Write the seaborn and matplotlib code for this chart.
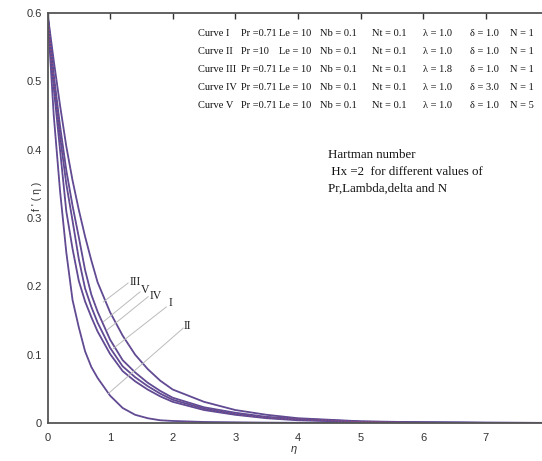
import matplotlib
matplotlib.use("Agg")
import matplotlib.pyplot as plt
import seaborn as sns
import pandas as pd

eta = [0, 0.1, 0.2, 0.3, 0.4, 0.5, 0.6, 0.7, 0.8, 1.0, 1.2, 1.4, 1.6, 1.8,
       2.0, 2.5, 3.0, 3.5, 4.0, 5.0, 6.0, 7.0, 8.0]
curve_I = [0.6, 0.49, 0.40, 0.31, 0.255, 0.208, 0.178, 0.155, 0.134, 0.101, 0.076,
           0.061, 0.049, 0.039, 0.031, 0.019, 0.012, 0.007, 0.004, 0.0015, 0.0006, 0.0002, 0.0001]
curve_II = [0.6, 0.45, 0.34, 0.25, 0.18, 0.14, 0.105, 0.082, 0.066, 0.040, 0.022,
            0.012, 0.007, 0.004, 0.003, 0.0015, 0.001, 0.0005, 0.0003, 0.0002, 0.0001, 0.0001, 0.0]
curve_III = [0.6, 0.53, 0.465, 0.405, 0.355, 0.312, 0.273, 0.238, 0.206, 0.162, 0.128,
             0.100, 0.079, 0.062, 0.049, 0.031, 0.019, 0.012, 0.007, 0.0025, 0.001, 0.0004, 0.0002]
curve_IV = [0.6, 0.50, 0.42, 0.35, 0.296, 0.24, 0.197, 0.170, 0.147, 0.110, 0.083,
            0.067, 0.054, 0.043, 0.034, 0.021, 0.013, 0.008, 0.005, 0.0018, 0.0007, 0.0003, 0.0001]
curve_V = [0.6, 0.51, 0.435, 0.37, 0.318, 0.272, 0.224, 0.188, 0.163, 0.122, 0.092,
           0.074, 0.059, 0.047, 0.037, 0.023, 0.015, 0.009, 0.006, 0.002, 0.0008, 0.0003, 0.0001]

curve_names = ["I", "II", "III", "IV", "V"]
legend_rows = [
    ["Curve I", "Pr =0.71", "Le = 10", "Nb = 0.1", "Nt = 0.1", "λ = 1.0", "δ = 1.0", "N = 1"],
    ["Curve II", "Pr =10", "Le = 10", "Nb = 0.1", "Nt = 0.1", "λ = 1.0", "δ = 1.0", "N = 1"],
    ["Curve III", "Pr =0.71", "Le = 10", "Nb = 0.1", "Nt = 0.1", "λ = 1.8", "δ = 1.0", "N = 1"],
    ["Curve IV", "Pr =0.71", "Le = 10", "Nb = 0.1", "Nt = 0.1", "λ = 1.0", "δ = 3.0", "N = 1"],
    ["Curve V", "Pr =0.71", "Le = 10", "Nb = 0.1", "Nt = 0.1", "λ = 1.0", "δ = 1.0", "N = 5"],
]
note_lines = ["Hartman number", " Hx =2  for different values of", "Pr,Lambda,delta and N"]
x_ticks = [0, 1, 2, 3, 4, 5, 6, 7, 8]
x_tick_labels = ["0", "1", "2", "3", "4", "5", "6", "7", ""]
y_ticks = [0, 0.1, 0.2, 0.3, 0.4, 0.5, 0.6]
y_tick_labels = ["0", "0.1", "0.2", "0.3", "0.4", "0.5", "0.6"]

# label annotations: (label, text pos, leader start, leader end) in data coords
labels = ["III", "V", "IV", "I", "II"]
label_xy = [(1.40, 0.207), (1.56, 0.195), (1.73, 0.186), (1.96, 0.176), (2.24, 0.142)]
leader_start = [(1.29, 0.205), (1.48, 0.192), (1.61, 0.185), (1.90, 0.170), (2.17, 0.139)]
leader_end = [(0.89, 0.177), (0.89, 0.148), (0.95, 0.136), (1.05, 0.109), (0.97, 0.043)]

series = {"I": curve_I, "II": curve_II, "III": curve_III, "IV": curve_IV, "V": curve_V}
df = pd.concat([pd.DataFrame({"eta": eta, "f": series[n], "curve": n}) for n in curve_names])

sns.set_style("white")
plt.rcParams["font.family"] = ["Liberation Sans", "DejaVu Sans"]

W, H = 542, 461
fig = plt.figure(figsize=(W / 100, H / 100), dpi=100)
x0px, x1px = 47.5, 47.5 + 8 * 62.6
ytop, ybot = 13, 423
ax = fig.add_axes([x0px / W, (H - ybot) / H, (x1px - x0px) / W, (ybot - ytop) / H])

line_color = "#5a4a96"
sns.lineplot(data=df, x="eta", y="f", hue="curve", palette=[line_color] * 5,
             legend=False, ax=ax, estimator=None, sort=False, linewidth=1.3)
sns.lineplot(data=df, x="eta", y="f", hue="curve", palette=["#c0506a"] * 5,
             legend=False, ax=ax, estimator=None, sort=False, linewidth=0.6,
             linestyle=(0, (1, 3)), alpha=0.6)

ax.set_xlim(0, 8)
ax.set_ylim(0, 0.6)
ax.set_xticks(x_ticks)
ax.set_xticklabels(x_tick_labels)
ax.set_yticks(y_ticks)
ax.set_yticklabels(y_tick_labels)
ax.tick_params(direction="in", top=True, right=True, length=4, width=1,
               labelsize=8, colors="#333333")
ax.tick_params(axis="x", pad=7)
ax.tick_params(axis="y", pad=4)
for s in ax.spines.values():
    s.set_color("#555555")
    s.set_linewidth(1.3)
ax.set_xlabel("")
ax.set_ylabel("")
fig.text(294 / W, 1 - 449 / H, "η", fontsize=8, fontstyle="italic",
         ha="center", va="center", color="#333333")
fig.text(37 / W, 1 - 196 / H, "f ' ( η )", fontsize=7.5, rotation=90,
         ha="center", va="center", color="#333333")

for lab, txy, s, e in zip(labels, label_xy, leader_start, leader_end):
    ax.plot([s[0], e[0]], [s[1], e[1]], color="#bbbbbb", lw=0.7)
    ax.text(txy[0], txy[1], lab, fontsize=8.5, family="Liberation Serif",
            ha="center", va="center", color="#222222")

col_x = [198, 241, 279, 320, 372, 423, 470, 510]
row_y = [34, 52, 70, 88, 106]
for ry, row in zip(row_y, legend_rows):
    for cx, txt in zip(col_x, row):
        fig.text(cx / W, 1 - ry / H, txt, fontsize=7.5, family="Liberation Serif",
                 ha="left", va="center", color="#111111")

note_y = [155, 172, 189]
for ny, txt in zip(note_y, note_lines):
    fig.text(328 / W, 1 - ny / H, txt, fontsize=9.3, family="Liberation Serif",
             ha="left", va="center", color="#111111")

fig.savefig("out.png", dpi=100)
